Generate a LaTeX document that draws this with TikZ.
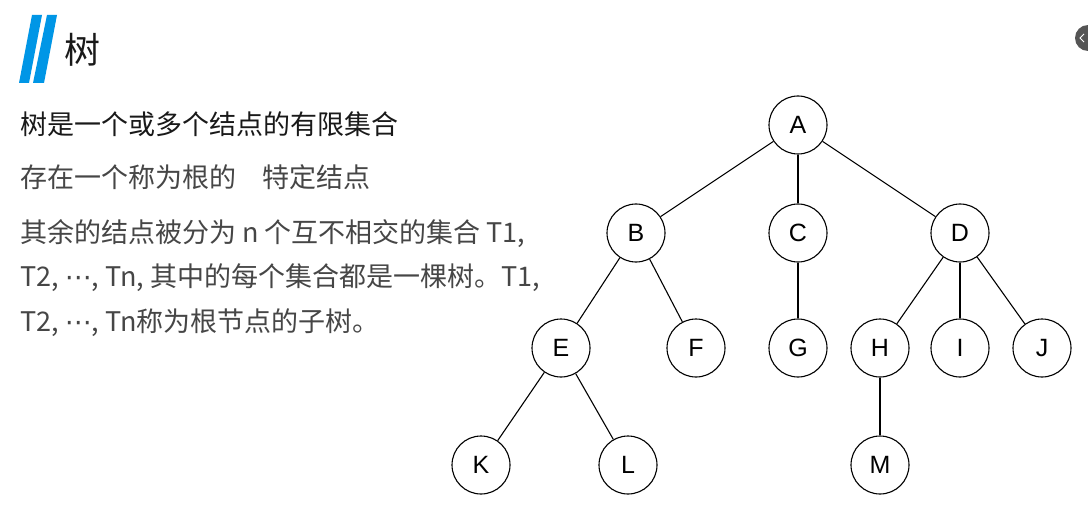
\documentclass[tikz,border=0pt]{standalone}
\usepackage{fontspec}
\setmainfont{Noto Sans CJK SC}
\newfontfamily\latinf{Liberation Sans}
\newfontfamily\symf{DejaVu Sans}
\newcommand{\mydots}{{\symf ⋯}}
\definecolor{barblue}{RGB}{0,150,230}
\definecolor{txtdark}{RGB}{25,25,25}
\definecolor{txtgray}{RGB}{70,70,70}
\definecolor{btngray}{RGB}{85,85,85}
\begin{document}
\begin{tikzpicture}[x=1pt,y=-1pt,
  tnode/.style={circle,draw=black,line width=1.1pt,minimum size=58pt,inner sep=0pt,
    font=\latinf\fontsize{25}{25}\selectfont,text=black},
  tedge/.style={line width=1.1pt,draw=black},
  line/.style={anchor=base west,inner sep=0pt,font=\fontsize{27}{27}\selectfont}]
\useasboundingbox (0,0) rectangle (1088,532);
\fill[white] (0,0) rectangle (1088,532);
% title bars
\fill[barblue] (19,83) -- (32,15) -- (42,15) -- (29,83) -- cycle;
\fill[barblue] (33,83) -- (47,15) -- (57,15) -- (44,83) -- cycle;
\node[anchor=base west,inner sep=0pt,text=txtdark,font=\fontsize{36}{36}\selectfont] (title) at (64,64) {树};
% corner button
\begin{scope}
\clip (0,0) rectangle (1088,532);
\fill[btngray] (1088,38) circle (13);
\draw[white,line width=1pt] (1084,34) -- (1080,38) -- (1084,42);
\end{scope}
% text lines
\node[line,text=txtdark] (l1) at (20,135) {树是一个或多个结点的有限集合};
\node[line,text=txtgray] (l2) at (20,188) {存在一个称为根的\hspace{26pt}特定结点};
\node[line,text=txtgray] (l3) at (20,243) {其余的结点被分为 n 个互不相交的集合 T1,};
\node[line,text=txtgray] (l4) at (20,287) {T2, \mydots, Tn, 其中的每个集合都是一棵树。T1,};
\node[line,text=txtgray] (l5) at (20,331) {T2, \mydots, Tn称为根节点的子树。};
% tree nodes
\node[tnode] (A) at (798,125) {A};
\node[tnode] (B) at (636,233) {B};
\node[tnode] (C) at (798,233) {C};
\node[tnode] (D) at (960,233) {D};
\node[tnode] (E) at (561,348) {E};
\node[tnode] (F) at (696,348) {F};
\node[tnode] (G) at (798,348) {G};
\node[tnode] (H) at (880,348) {H};
\node[tnode] (I) at (960,348) {I};
\node[tnode] (J) at (1042,348) {J};
\node[tnode] (K) at (481,465) {K};
\node[tnode] (L) at (628,465) {L};
\node[tnode] (M) at (880,465) {M};
% edges
\draw[tedge] (A) -- (B);
\draw[tedge] (A) -- (C);
\draw[tedge] (A) -- (D);
\draw[tedge] (B) -- (E);
\draw[tedge] (B) -- (F);
\draw[tedge] (C) -- (G);
\draw[tedge] (D) -- (H);
\draw[tedge] (D) -- (I);
\draw[tedge] (D) -- (J);
\draw[tedge] (E) -- (K);
\draw[tedge] (E) -- (L);
\draw[tedge] (H) -- (M);
\end{tikzpicture}
\end{document}
